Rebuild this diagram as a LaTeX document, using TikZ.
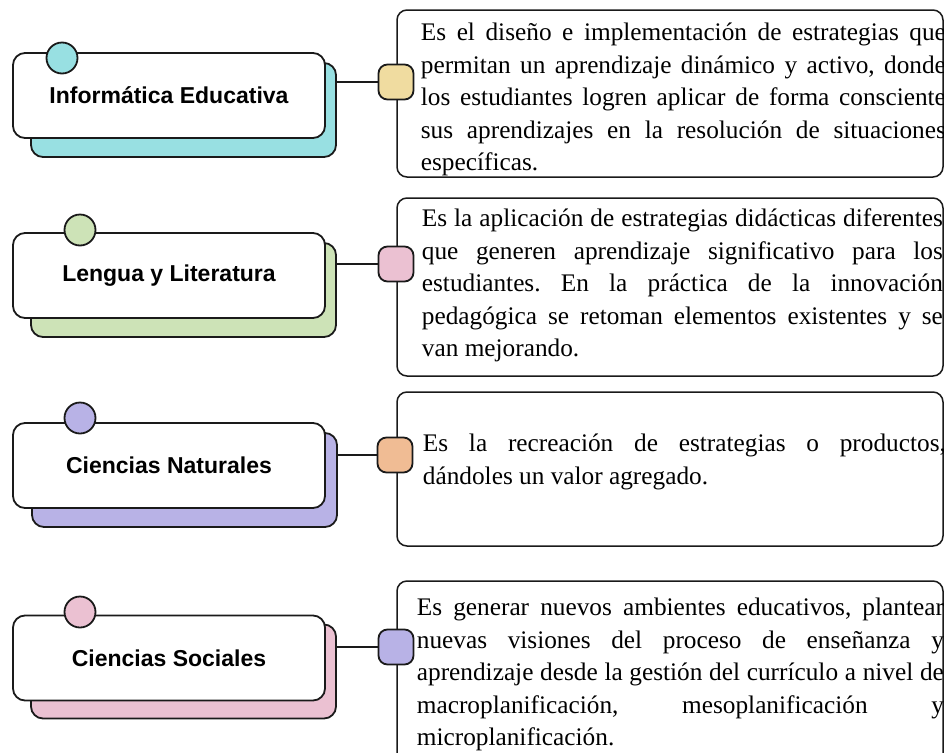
\documentclass[tikz,border=0pt]{standalone}
\usepackage{fontspec}
\setmainfont{Liberation Serif}
\newfontfamily\titlefont{Liberation Sans}
\definecolor{ink}{HTML}{1A1A1A}
\definecolor{cteal}{HTML}{98E0E2}
\definecolor{cyellow}{HTML}{F0DCA0}
\definecolor{cgreen}{HTML}{CDE3B7}
\definecolor{cpink}{HTML}{EBC1D2}
\definecolor{cpurple}{HTML}{B8B2E6}
\definecolor{corange}{HTML}{F0BC94}
\begin{document}
\frenchspacing
\hyphenpenalty=10000
\exhyphenpenalty=10000
\begin{tikzpicture}[x=1pt,y=-1pt,line width=1.8pt,
  backbox/.style={draw=ink, rounded corners=12pt, minimum width=305pt, minimum height=94pt, inner sep=0pt},
  frontbox/.style={draw=ink, fill=white, rounded corners=12pt, minimum width=312pt, minimum height=85pt, inner sep=0pt,
     font=\titlefont\bfseries\fontsize{23}{27}\selectfont, text=black},
  dot/.style={draw=ink, circle, minimum size=31pt, inner sep=0pt},
  knob/.style={draw=ink, rounded corners=9pt, minimum size=35pt, inner sep=0pt},
  panel/.style={draw=ink, fill=white, line width=1.5pt, rounded corners=10pt, minimum width=546pt, inner sep=0pt},
  para/.style={anchor=north west, inner sep=0pt, align=justify, text=black,
     font=\fontsize{25.3}{32.5}\selectfont},
  link/.style={draw=ink, line width=1.8pt}
]
\useasboundingbox (0,0) rectangle (946,753);
\clip (0,0) rectangle (946,753);

% ---------- right panels ----------
\node[panel, minimum height=167pt] (p1) at (670,93.5) {};
\node[panel, minimum height=178pt] (p2) at (670,287) {};
\node[panel, minimum height=154pt] (p3) at (670,469) {};
\node[panel, minimum height=200pt] (p4) at (670,681) {};

\begin{scope}
\clip[rounded corners=10pt] (p1.north west) rectangle (p1.south east);
\node[para, text width=525pt] (t1) at (420,17) {\strut Es el diseño e implementación de estrategias que\linebreak
permitan un aprendizaje dinámico y activo, donde\linebreak
los estudiantes logren aplicar de forma consciente\linebreak
sus aprendizajes en la resolución de situaciones\linebreak
específicas.};
\end{scope}
\begin{scope}
\clip[rounded corners=10pt] (p2.north west) rectangle (p2.south east);
\node[para, text width=521pt] (t2) at (421,203) {\strut Es la aplicación de estrategias didácticas diferentes\linebreak
que generen aprendizaje significativo para los\linebreak
estudiantes. En la práctica de la innovación\linebreak
pedagógica se retoman elementos existentes y se\linebreak
van mejorando.};
\end{scope}
\begin{scope}
\clip[rounded corners=10pt] (p3.north west) rectangle (p3.south east);
\node[para, text width=523pt] (t3) at (422,428) {\strut Es la recreación de estrategias o productos,\linebreak
dándoles un valor agregado.};
\end{scope}
\begin{scope}
\clip[rounded corners=10pt] (p4.north west) rectangle (p4.south east);
\node[para, text width=527pt] (t4) at (416,592) {\strut Es generar nuevos ambientes educativos, plantear\linebreak
nuevas visiones del proceso de enseñanza y\linebreak
aprendizaje desde la gestión del currículo a nivel de\linebreak
macroplanificación, mesoplanificación y\linebreak
microplanificación.};
\end{scope}

% ---------- row 1 ----------
\node[backbox, fill=cteal] (b1) at (183.5,110) {};
\node[frontbox] (f1) at (169,95.5) {Informática Educativa};
\node[dot, fill=cteal] (c1) at (62,58) {};
\node[knob, fill=cyellow] (k1) at (396,82) {};
\draw[link] (b1.east |- k1) -- (k1.west);

% ---------- row 2 ----------
\node[backbox, fill=cgreen] (b2) at (183.5,290) {};
\node[frontbox] (f2) at (169,275.5) {Lengua y Literatura};
\node[dot, fill=cgreen] (c2) at (80,230) {};
\node[knob, fill=cpink] (k2) at (396,264) {};
\draw[link] (b2.east |- k2) -- (k2.west);

% ---------- row 3 ----------
\node[backbox, fill=cpurple] (b3) at (184.5,480) {};
\node[frontbox] (f3) at (169,465.5) {Ciencias Naturales};
\node[dot, fill=cpurple] (c3) at (80,418) {};
\node[knob, fill=corange] (k3) at (395,455) {};
\draw[link] (b3.east |- k3) -- (k3.west);

% ---------- row 4 ----------
\node[backbox, fill=cpink] (b4) at (183.5,671.5) {};
\node[frontbox] (f4) at (169,658) {Ciencias Sociales};
\node[dot, fill=cpink] (c4) at (80,612) {};
\node[knob, fill=cpurple] (k4) at (396,647) {};
\draw[link] (b4.east |- k4) -- (k4.west);
\end{tikzpicture}
\end{document}
